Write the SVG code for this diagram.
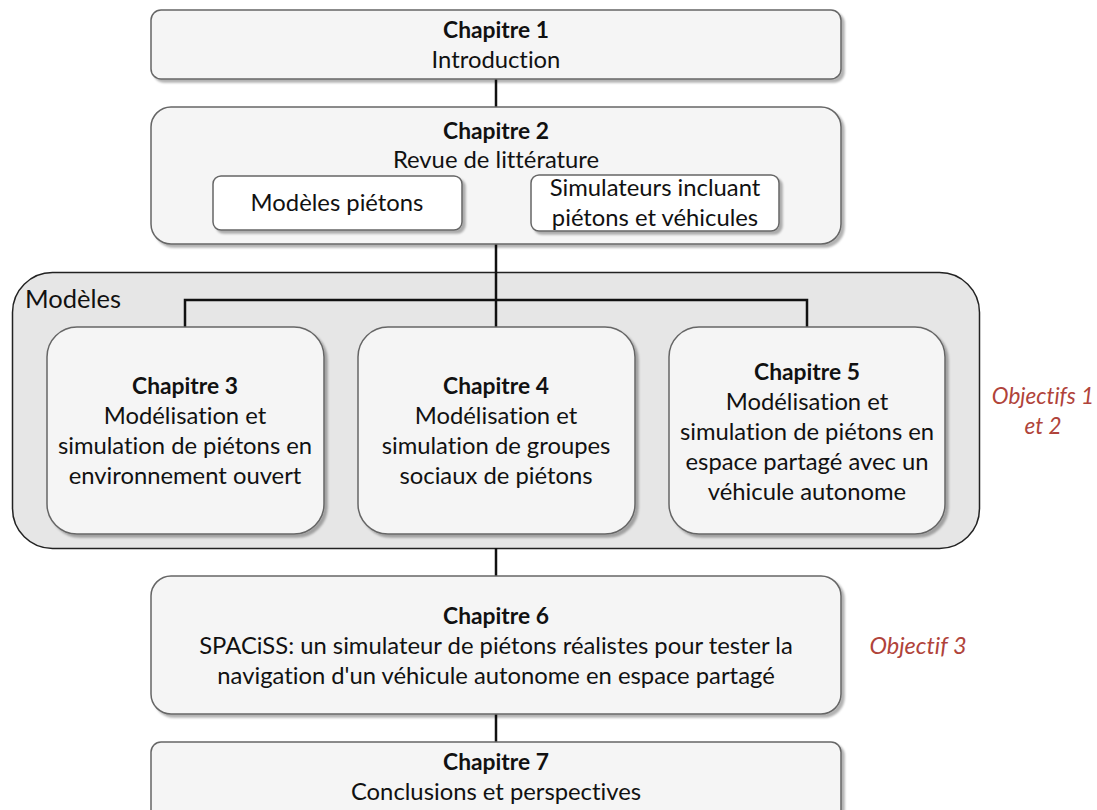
<svg xmlns="http://www.w3.org/2000/svg" width="1097" height="810" viewBox="0 0 1097 810">
<style>
text{font-family:Lato,"Open Sans","Liberation Sans",sans-serif;font-size:23.8px;fill:#111;text-anchor:middle;font-variant-ligatures:none;font-feature-settings:"liga" 0}
.b{font-weight:bold;font-size:22.8px}
.obj{font-style:italic;fill:#b0433a;font-size:22.5px}
.box{fill:#f5f5f5;stroke:#666;stroke-width:1.5;filter:url(#sh)}
.inner{fill:#fff;stroke:#666;stroke-width:1.5;filter:url(#sh)}
.grp{fill:#e6e6e6;stroke:#222;stroke-width:1.5}
.con{fill:none;stroke:#111;stroke-width:2.5}
</style>
<defs>
<filter id="sh" x="-5%" y="-5%" width="115%" height="120%">
<feDropShadow dx="3" dy="3" stdDeviation="1" flood-color="#000" flood-opacity="0.3"/>
</filter>
</defs>
<rect width="1097" height="810" fill="#fff"/>
<g id="modeles">
<rect class="grp" x="12.5" y="272.5" width="967" height="276" rx="40"/>
<text x="25" y="308" style="text-anchor:start;font-size:25.5px">Modèles</text>
</g>
<g id="connectors">
<line class="con" x1="496" y1="79" x2="496" y2="107"/>
<line class="con" x1="496" y1="243" x2="496" y2="327"/>
<polyline class="con" points="185,327 185,300 807,300 807,327"/>
<line class="con" x1="496" y1="548" x2="496" y2="576"/>
<line class="con" x1="496" y1="714" x2="496" y2="742"/>
</g>
<g id="ch1">
<rect class="box" x="151" y="10" width="690" height="69" rx="10"/>
<text class="b" x="496" y="38">Chapitre 1</text>
<text x="496" y="68">Introduction</text>
</g>
<g id="ch2">
<rect class="box" x="151" y="107" width="690" height="137" rx="20"/>
<text class="b" x="496" y="139">Chapitre 2</text>
<text x="496" y="168">Revue de littérature</text>
</g>
<g id="modeles-pietons">
<rect class="inner" x="213" y="176" width="249" height="54" rx="8"/>
<text x="337" y="211">Modèles piétons</text>
</g>
<g id="simulateurs">
<rect class="inner" x="531" y="175" width="248" height="56" rx="8"/>
<text x="655" y="196">Simulateurs incluant</text>
<text x="655" y="226">piétons et véhicules</text>
</g>
<g id="ch3">
<rect class="box" x="47" y="327" width="277" height="207" rx="30"/>
<text class="b" x="185" y="394">Chapitre 3</text>
<text x="185" y="424">Modélisation et</text>
<text x="185" y="454">simulation de piétons en</text>
<text x="185" y="484">environnement ouvert</text>
</g>
<g id="ch4">
<rect class="box" x="358" y="327" width="277" height="207" rx="30"/>
<text class="b" x="496" y="394">Chapitre 4</text>
<text x="496" y="424">Modélisation et</text>
<text x="496" y="454">simulation de groupes</text>
<text x="496" y="484">sociaux de piétons</text>
</g>
<g id="ch5">
<rect class="box" x="669" y="327" width="276" height="207" rx="30"/>
<text class="b" x="807" y="380">Chapitre 5</text>
<text x="807" y="410">Modélisation et</text>
<text x="807" y="440">simulation de piétons en</text>
<text x="807" y="470">espace partagé avec un</text>
<text x="807" y="500">véhicule autonome</text>
</g>
<g id="objectifs12">
<text class="obj" x="1043" y="404">Objectifs 1</text>
<text class="obj" x="1043" y="434">et 2</text>
</g>
<g id="ch6">
<rect class="box" x="151" y="576" width="690" height="138" rx="20"/>
<text class="b" x="496" y="624">Chapitre 6</text>
<text x="496" y="654">SPACiSS: un simulateur de piétons réalistes pour tester la</text>
<text x="496" y="684">navigation d'un véhicule autonome en espace partagé</text>
</g>
<g id="objectif3">
<text class="obj" x="918" y="654" style="font-size:23.5px">Objectif 3</text>
</g>
<g id="ch7">
<rect class="box" x="151" y="742" width="690" height="80" rx="10"/>
<text class="b" x="496" y="770">Chapitre 7</text>
<text x="496" y="800">Conclusions et perspectives</text>
</g>
</svg>
